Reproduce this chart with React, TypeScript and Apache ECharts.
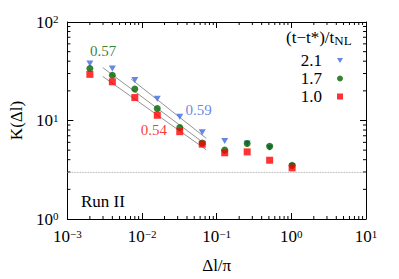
import React, { useEffect, useRef } from "react";
import * as echarts from "echarts";

const FONT = "Liberation Serif, Times New Roman, serif";

const xValues = [0.002, 0.004, 0.008, 0.016, 0.032, 0.064, 0.128, 0.256, 0.512, 1.024];
const seriesNames = ["2.1", "1.7", "1.0"];
const k21 = [38, 33.7, 25.7, 16.6, 10.9, 7.6, 6.2, 5.85, 5.3, 3.45];
const k17 = [33.7, 28.8, 20.9, 13.2, 8.5, 5.9, 5.0, 5.85, 5.46, 3.5];
const k10 = [29.4, 24.7, 17.1, 11.3, 7.7, 5.75, 4.7, 4.8, 3.95, 3.3];

const fit21 = [[0.00715, 26.3], [0.0724, 6.6]];
const fit17 = [[0.00298, 34.4], [0.0724, 5.66]];
const fit10 = [[0.00298, 28.0], [0.0724, 5.05]];

const slopeLabels = ["0.59", "0.57", "0.54"];
const slopeLabelPos = [[0.0573, 12.7], [0.003, 50.5], [0.01445, 8.0]];

const refLevel = 3;

const xTickExps = [-3, -2, -1, 0, 1];
const yTickExps = [0, 1, 2];

const BLUE = "#4169e1";
const GREEN = "#006400";
const RED = "#ff0000";

function supLabel(v: number) {
  const e = Math.round(Math.log10(v));
  const s = e < 0 ? "\u2212" + Math.abs(e) : String(e);
  return "{b|10}{s|" + s + "}";
}

const richSup = {
  b: { fontFamily: FONT, fontSize: 17, color: "#000" },
  s: { fontFamily: FONT, fontSize: 11, color: "#000", verticalAlign: "top", padding: [0, 0, 6, 0] },
};

export default function App() {
  const ref = useRef<HTMLDivElement>(null);
  useEffect(() => {
    if (!ref.current) return;
    const chart = echarts.init(ref.current, null, { renderer: "svg" });
    const xMin = Math.pow(10, xTickExps[0]);
    const xMax = Math.pow(10, xTickExps[xTickExps.length - 1]);
    const yMin = Math.pow(10, yTickExps[0]);
    const yMax = Math.pow(10, yTickExps[yTickExps.length - 1]);

    const minorX: number[] = [];
    for (let e = xTickExps[0]; e < xTickExps[xTickExps.length - 1]; e++)
      for (let m = 2; m <= 9; m++) minorX.push(m * Math.pow(10, e));
    const minorY: number[] = [];
    for (let e = yTickExps[0]; e < yTickExps[yTickExps.length - 1]; e++)
      for (let m = 2; m <= 9; m++) minorY.push(m * Math.pow(10, e));

    const axisCommon = {
      type: "log" as const,
      logBase: 10,
      axisLine: { show: true, lineStyle: { color: "#000", width: 1 } },
      axisTick: { show: true, inside: true, length: 6, lineStyle: { color: "#000" } },
      splitLine: { show: false },
    };

    const mk = (name: string, data: number[], symbol: string, size: number | number[], color: string) => ({
      name,
      type: "scatter",
      data: xValues.map((x, i) => [x, data[i]]),
      symbol,
      symbolSize: size,
      itemStyle: { color },
      z: 5,
    });

    const fitLine = (d: number[][]) => ({
      type: "line",
      data: d,
      symbol: "none",
      lineStyle: { color: "#777", width: 0.8 },
      silent: true,
      z: 3,
    });

    const labelColors = [BLUE, GREEN, RED];
    const downTri = "path://M0,0 L10,0 L5,8 Z";

    chart.setOption({
      animation: false,
      textStyle: { fontFamily: FONT },
      grid: { left: 65, right: 33, top: 22, bottom: 57 },
      xAxis: [
        {
          ...axisCommon,
          min: xMin,
          max: xMax,
          position: "bottom",
          name: "\u0394l/\u03c0",
          nameLocation: "middle",
          nameGap: 38,
          nameTextStyle: { fontFamily: FONT, fontSize: 17, color: "#000" },
          axisLabel: { formatter: supLabel, rich: richSup, margin: 9, fontFamily: FONT },
        },
        { ...axisCommon, min: xMin, max: xMax, position: "top", axisLabel: { show: false } },
      ],
      yAxis: [
        {
          ...axisCommon,
          min: yMin,
          max: yMax,
          position: "left",
          name: "K(\u0394l)",
          nameLocation: "middle",
          nameGap: 42,
          nameRotate: 90,
          nameTextStyle: { fontFamily: FONT, fontSize: 17, color: "#000" },
          axisLabel: { formatter: supLabel, rich: richSup, margin: 9, fontFamily: FONT },
        },
        { ...axisCommon, min: yMin, max: yMax, position: "right", axisLabel: { show: false } },
      ],
      legend: {
        data: [
          { name: seriesNames[0], icon: downTri },
          { name: seriesNames[1], icon: "circle" },
          { name: seriesNames[2], icon: "rect" },
        ],
        orient: "vertical",
        align: "right",
        right: 56,
        top: 52,
        padding: 0,
        itemWidth: 6,
        itemHeight: 6,
        itemGap: 1,
        textStyle: { fontFamily: FONT, fontSize: 17, color: "#000", padding: [0, 10, 0, 0] },
      },
      graphic: [
        {
          type: "text",
          left: 286,
          top: 29,
          style: {
            text: "{a|(t\u2212t*)/t}{b|NL}",
            rich: {
              a: { fontFamily: FONT, fontSize: 17, fill: "#000", color: "#000" },
              b: { fontFamily: FONT, fontSize: 13, fill: "#000", color: "#000", verticalAlign: "bottom", padding: [6, 0, 0, 0] },
            },
          },
        },
        {
          type: "text",
          left: 81,
          top: 193,
          style: { text: "Run II", fontFamily: FONT, fontSize: 17, fill: "#000" },
        },
      ],
      series: [
        fitLine(fit21),
        fitLine(fit17),
        fitLine(fit10),
        mk(seriesNames[0], k21, downTri, [7, 6], BLUE),
        mk(seriesNames[1], k17, "circle", 7, GREEN),
        mk(seriesNames[2], k10, "rect", 7, RED),
        {
          type: "scatter",
          symbolSize: 0,
          silent: true,
          data: slopeLabelPos.map((p, i) => ({
            value: p,
            label: {
              show: true,
              position: "inside",
              formatter: slopeLabels[i],
              fontFamily: FONT,
              fontSize: 15,
              color: labelColors[i],
            },
          })),
        },
        {
          type: "line",
          data: [],
          markLine: {
            silent: true,
            symbol: "none",
            label: { show: false },
            lineStyle: { color: "#999", type: "dotted", width: 0.8 },
            data: [{ yAxis: refLevel }],
          },
        },
        {
          type: "custom",
          silent: true,
          data: [[0.01, 10]],
          renderItem: (params: any, api: any) => {
            const children: any[] = [];
            const st = { stroke: "#000", lineWidth: 1 };
            minorX.forEach((v) => {
              const b = api.coord([v, yMin]);
              const t = api.coord([v, yMax]);
              children.push({ type: "line", shape: { x1: b[0], y1: b[1], x2: b[0], y2: b[1] - 3 }, style: st });
              children.push({ type: "line", shape: { x1: t[0], y1: t[1], x2: t[0], y2: t[1] + 3 }, style: st });
            });
            minorY.forEach((v) => {
              const l = api.coord([xMin, v]);
              const r = api.coord([xMax, v]);
              children.push({ type: "line", shape: { x1: l[0], y1: l[1], x2: l[0] + 3, y2: l[1] }, style: st });
              children.push({ type: "line", shape: { x1: r[0], y1: r[1], x2: r[0] - 3, y2: r[1] }, style: st });
            });
            return { type: "group", children };
          },
        },
      ],
    });
    return () => chart.dispose();
  }, []);
  return <div ref={ref} style={{ width: 399, height: 279, position: "absolute", left: 0, top: 0 }} />;
}
